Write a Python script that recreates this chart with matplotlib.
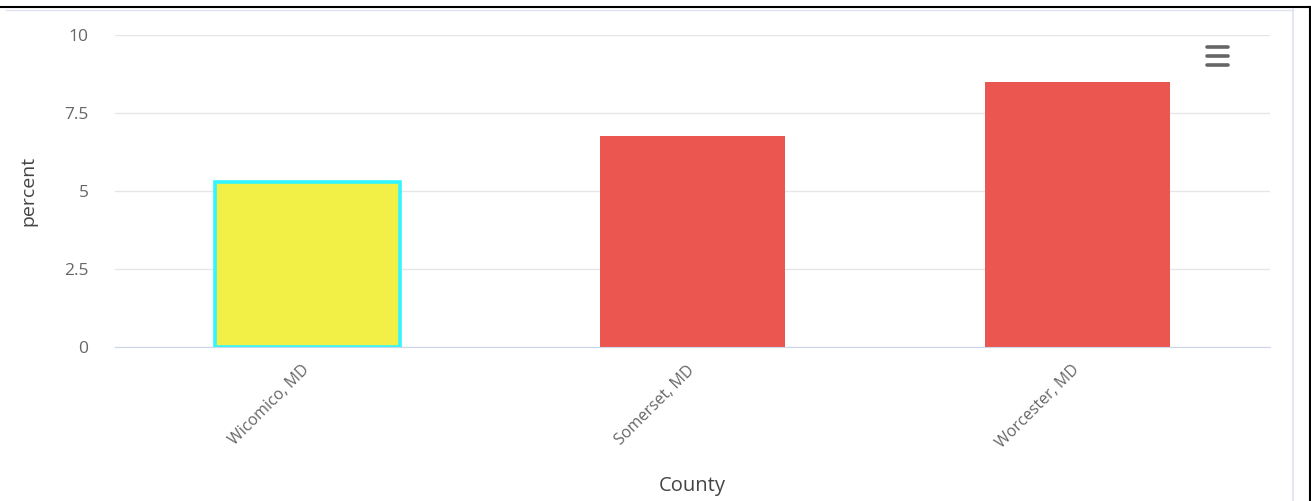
import matplotlib

matplotlib.use("Agg")
import matplotlib.pyplot as plt
from matplotlib.lines import Line2D

plt.rcParams["font.family"] = ["Open Sans", "DejaVu Sans"]

# ---------- data ----------
counties = ["Wicomico, MD", "Somerset, MD", "Worcester, MD"]
percent = [5.3, 6.75, 8.5]
highlight = "Wicomico, MD"

yticks = [0, 2.5, 5, 7.5, 10]
ytick_labels = ["0", "2.5", "5", "7.5", "10"]

# ---------- styles ----------
RED = "#eb5650"
YELLOW = "#f2f046"
CYAN = "#33f5ff"
TEXT = "#666666"
GRID = "#e6e6e6"
BASE = "#ccd6eb"

W, H = 1311, 501
fig = plt.figure(figsize=(W / 100, H / 100), dpi=100)
ax = fig.add_axes([115 / W, (H - 347) / H, (1270 - 115) / W, (347 - 35) / H])

x = range(len(counties))
colors = [YELLOW if c == highlight else RED for c in counties]
bars = ax.bar(x, percent, width=0.48, color=colors, zorder=3)
for b, c in zip(bars, counties):
    if c == highlight:
        b.set_edgecolor(CYAN)
        b.set_linewidth(2.6)

ax.set_xlim(-0.5, len(counties) - 0.5)
ax.set_ylim(0, 10)
ax.set_yticks(yticks)
ax.set_yticklabels(ytick_labels)
ax.set_xticks(list(x))
ax.set_xticklabels(counties, rotation=45, ha="right", va="center",
                   rotation_mode="anchor")

ax.grid(axis="y", color=GRID, lw=1, zorder=0)
for s in ("top", "right", "left"):
    ax.spines[s].set_visible(False)
ax.spines["bottom"].set_color(BASE)
ax.spines["bottom"].set_zorder(4)
ax.tick_params(axis="both", length=0, colors=TEXT)
ax.tick_params(axis="y", pad=19, labelsize=12.5)
ax.tick_params(axis="x", pad=15, labelsize=11.5)

ax.set_xlabel("County", color="#444444", fontsize=14.5)
ax.set_ylabel("percent", color="#444444", fontsize=14)
ax.xaxis.set_label_coords(0.5, -(476 - 347) / (347 - 35))
ax.yaxis.set_label_coords(-(115 - 37) / (1270 - 115), (347 - 191) / (347 - 35))

# menu icon (three bars)
for yy in (47, 56, 65):
    fig.add_artist(Line2D([1207 / W, 1228 / W], [1 - yy / H, 1 - yy / H],
                          color="#666666", lw=2.6, solid_capstyle="round"))

# frame lines around the panel
fig.add_artist(Line2D([0, 1], [1 - 7 / H, 1 - 7 / H], color="black", lw=1.5))
fig.add_artist(Line2D([6 / W, 1293 / W], [1 - 9.5 / H, 1 - 9.5 / H], color="#dfe3f0", lw=1))
fig.add_artist(Line2D([1293 / W, 1293 / W], [0, 1 - 9 / H], color="#dfe3f0", lw=1.2))
fig.add_artist(Line2D([1309.5 / W, 1309.5 / W], [0, 1 - 7 / H], color="black", lw=1.5))

fig.savefig("out.png", dpi=100, facecolor="white")
